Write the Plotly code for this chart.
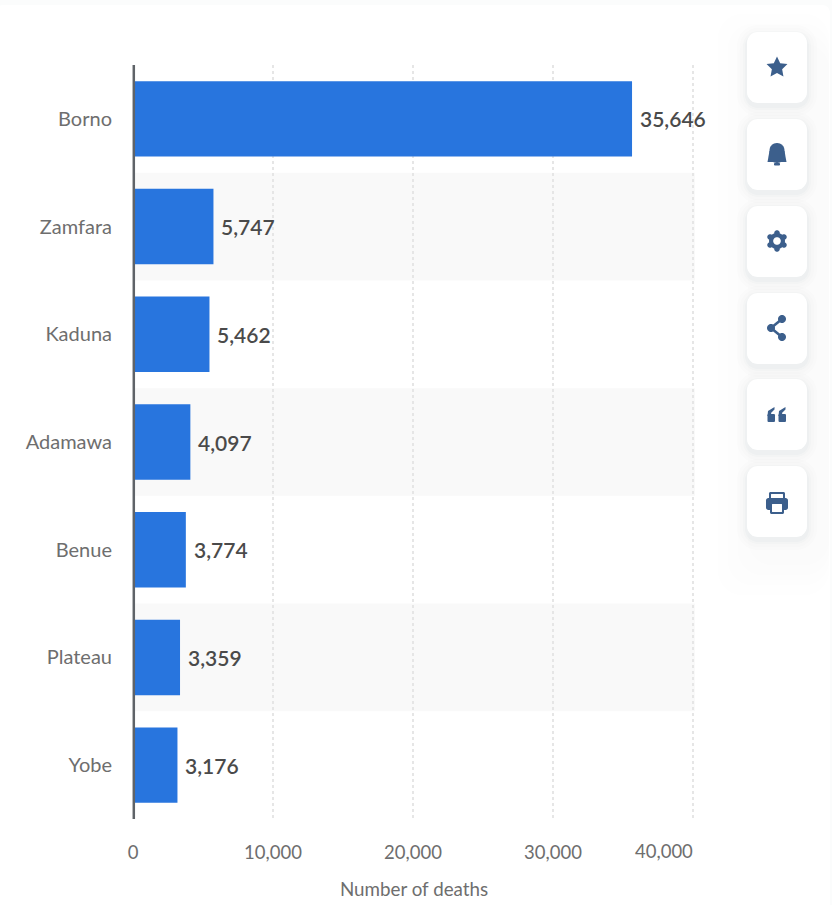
import math
import plotly.graph_objects as go

W, H = 832, 905

states = ["Borno", "Zamfara", "Kaduna", "Adamawa", "Benue", "Plateau", "Yobe"]
deaths = [35646, 5747, 5462, 4097, 3774, 3359, 3176]
x_ticks = [0, 10000, 20000, 30000, 40000]
axis_title = "Number of deaths"

BLUE = "#2875de"
ICON = "#3c5f8c"
FONT = "Lato, 'Open Sans', sans-serif"
TICK_COLOR = "#6e6e6e"

# plot area, in page pixels
PL, PR, PT, PB = 133, 695, 65, 819
X_MAX = 40000 * (PR - PL) / 560


def px(x):
    return (x - PL) / (PR - PL)


def py(y):
    return (PB - y) / (PB - PT)


def path(points, close=True):
    body = "L".join(f"{px(x):.5f},{py(y):.5f}" for x, y in points)
    return "M" + body + ("Z" if close else "")


def rounded(x0, y0, x1, y1, r, n=8):
    pts = []
    corners = [(x1 - r, y0 + r, -90), (x1 - r, y1 - r, 0), (x0 + r, y1 - r, 90), (x0 + r, y0 + r, 180)]
    for cx, cy, start in corners:
        for i in range(n + 1):
            a = math.radians(start + 90 * i / n)
            pts.append((cx + r * math.cos(a), cy + r * math.sin(a)))
    return path(pts)


def circle(cx, cy, r):
    return rounded(cx - r, cy - r, cx + r, cy + r, r)


def fill_shape(d, color, layer="above"):
    return dict(type="path", xref="paper", yref="paper", path=d, fillcolor=color,
                line=dict(width=0), layer=layer)


shapes = []

# page edge: white sheet on a very pale backdrop
shapes.append(fill_shape(rounded(-5, 5, 830, H + 30, 8), "#ffffff", layer="below"))

# haze around the toolbar
for inset, alpha in [(0, 0.006), (10, 0.006), (20, 0.007), (30, 0.008)]:
    shapes.append(fill_shape(rounded(718 + inset, 14 + inset, 829, 595 - inset, 24),
                             f"rgba(70,90,130,{alpha})", layer="below"))

# alternating row bands behind the bars
for i in range(len(states)):
    if i % 2 == 1:
        shapes.append(dict(type="rect", xref="x", yref="y", x0=0, x1=X_MAX, y0=i - 0.5, y1=i + 0.5,
                           fillcolor="#f9f9f9", line=dict(width=0), layer="below"))

# category axis line, on top of the bars
shapes.append(dict(type="line", xref="paper", yref="paper", x0=px(133.8), x1=px(133.8), y0=0, y1=1,
                   line=dict(color="#5f6368", width=2.5), layer="above"))

# toolbar cards with a soft shadow
card_tops = [32, 119, 206, 293, 379, 466]
CARD_L, CARD_R, CARD_H = 747, 807, 71
for top in card_tops:
    for grow, alpha in [(10, 0.01), (7, 0.012), (4, 0.018), (2, 0.025)]:
        shapes.append(fill_shape(rounded(CARD_L - grow, top - grow + 3, CARD_R + grow, top + CARD_H + grow + 3, 11 + grow),
                                 f"rgba(60,80,120,{alpha})"))
    shapes.append(fill_shape(rounded(CARD_L, top, CARD_R, top + CARD_H, 11), "#ffffff"))

cx = 777

# star
cy = 67
star = []
for i in range(10):
    r = 11 if i % 2 == 0 else 5.4
    a = math.radians(-90 + 36 * i)
    star.append((cx + r * math.cos(a), cy + 0.5 + r * math.sin(a)))
shapes.append(fill_shape(path(star), ICON))

# bell
cy = 154
shapes.append(fill_shape(rounded(cx - 7.5, cy - 11, cx + 7.5, cy + 9, 7.4), ICON))
shapes.append(fill_shape(path([(cx - 7.5, cy - 3), (cx + 7.5, cy - 3), (cx + 9.5, cy + 8), (cx - 9.5, cy + 8)]), ICON))
shapes.append(fill_shape(rounded(cx - 3, cy + 9, cx + 3, cy + 11.5, 1), ICON))

# gear
cy = 241
shapes.append(fill_shape(circle(cx, cy, 8), ICON))
for k in range(6):
    a = math.radians(30 + 60 * k)
    shapes.append(fill_shape(circle(cx + 8 * math.cos(a), cy + 8 * math.sin(a), 2.8), ICON))
shapes.append(fill_shape(circle(cx, cy, 3.8), "#ffffff"))

# share
cy = 328
nodes = [(cx + 5, cy - 9), (cx - 6, cy), (cx + 5, cy + 9)]
shapes.append(dict(type="path", xref="paper", yref="paper", path=path(nodes, close=False),
                   line=dict(color=ICON, width=2.6), layer="above"))
for nx, ny in nodes:
    shapes.append(fill_shape(circle(nx, ny, 4), ICON))

# quotation marks
cy = 415
for off in (-5.5, 5.5):
    shapes.append(fill_shape(rounded(cx + off - 4, cy - 1, cx + off + 3.5, cy + 7, 1.2), ICON))
    shapes.append(fill_shape(path([(cx + off - 4, cy + 1), (cx + off - 3.5, cy - 4), (cx + off + 3, cy - 8),
                                   (cx + off + 3, cy - 5.5), (cx + off - 0.5, cy - 2), (cx + off + 0.5, cy + 1)]), ICON))

# printer
cy = 503
shapes.append(fill_shape(rounded(cx - 8, cy - 11, cx + 8, cy, 1.5), ICON))
shapes.append(fill_shape(rounded(cx - 6, cy - 9, cx + 6, cy - 4, 0.5), "#ffffff"))
shapes.append(fill_shape(rounded(cx - 11, cy - 5, cx + 11, cy + 7, 2.5), ICON))
shapes.append(fill_shape(rounded(cx - 7, cy + 1, cx + 7, cy + 11, 1.5), ICON))
shapes.append(fill_shape(rounded(cx - 5, cy + 1, cx + 5, cy + 9, 0.5), "#ffffff"))

fig = go.Figure(go.Bar(
    x=deaths,
    y=states,
    orientation="h",
    marker=dict(color=BLUE, line=dict(width=0)),
    width=0.70,
    cliponaxis=False,
))

# value labels sit a fixed distance past each bar end
for state, value in zip(states, deaths):
    fig.add_annotation(x=value, y=state, text=f"{value:,}", showarrow=False, xanchor="left",
                       xshift=6, font=dict(family=FONT, size=21, color="#4a4a4a", weight=600))

# the last tick label ends at its gridline instead of centring on it
tick_text = [f"{v:,}" for v in x_ticks]
fig.add_annotation(x=x_ticks[-1], y=0, yref="paper", text=tick_text[-1], showarrow=False,
                   xanchor="right", yanchor="middle", xshift=2, yshift=-31.5,
                   font=dict(family=FONT, size=18.5, color=TICK_COLOR))

fig.update_layout(
    width=W,
    height=H,
    margin=dict(l=PL, r=W - PR, t=PT, b=H - PB, autoexpand=False),
    paper_bgcolor="#fbfcfc",
    plot_bgcolor="rgba(0,0,0,0)",
    showlegend=False,
    shapes=shapes,
    font=dict(family=FONT),
)
fig.update_xaxes(
    range=[0, X_MAX],
    tickvals=x_ticks,
    ticktext=tick_text[:-1] + [""],
    tickfont=dict(size=18.5, color=TICK_COLOR),
    ticks="",
    ticklabelstandoff=20,
    showgrid=True,
    gridcolor="#e6e6e6",
    griddash="dot",
    gridwidth=2,
    zeroline=False,
    showline=False,
    title=dict(text=axis_title, font=dict(size=18.8, color=TICK_COLOR), standoff=21),
)
fig.update_yaxes(
    categoryorder="array",
    categoryarray=states,
    autorange="reversed",
    tickfont=dict(size=20, color=TICK_COLOR),
    ticks="",
    ticklabelstandoff=20,
    showgrid=False,
    zeroline=False,
    showline=False,
)

fig.write_html("out.html")
